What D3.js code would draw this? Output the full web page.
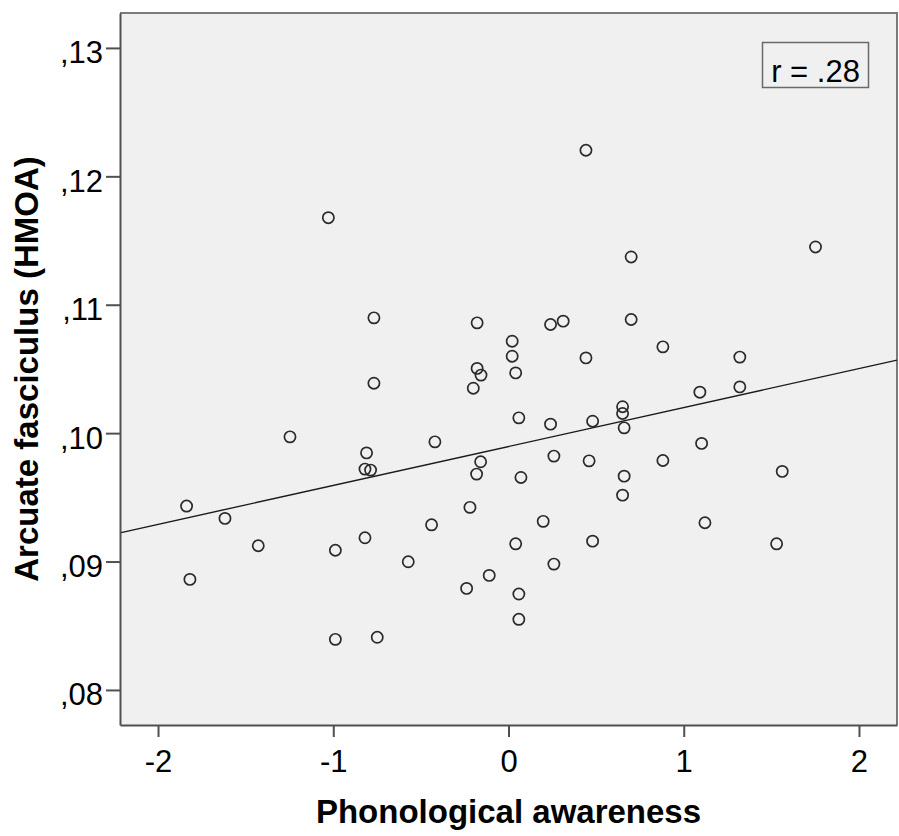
<!DOCTYPE html>
<html>
<head>
<meta charset="utf-8">
<script src="https://cdn.jsdelivr.net/npm/d3@7/dist/d3.min.js"></script>
<style>
  html, body { margin: 0; padding: 0; background: #ffffff; }
  svg { display: block; }
  text { font-family: "Liberation Sans", Arial, sans-serif; fill: #000; }
</style>
</head>
<body>
<svg id="chart" width="899" height="836"></svg>
<script>
// ---- Data ----
const phonologicalAwareness = [
  -1.837, -1.818, -1.618, -1.428, -1.247, -1.028, -0.988, -0.988, -0.819, -0.810,
  -0.819, -0.787, -0.768, -0.768, -0.749, -0.572, -0.439, -0.420, -0.239, -0.220,
  -0.201, -0.179, -0.179, -0.157, -0.182, -0.159, -0.110, 0.021, 0.021, 0.041,
  0.059, 0.071, 0.041, 0.059, 0.059, 0.198, 0.240, 0.312, 0.240, 0.259,
  0.259, 0.442, 0.442, 0.460, 0.480, 0.480, 0.700, 0.700, 0.881, 0.651,
  0.651, 0.660, 0.881, 0.660, 0.651, 1.092, 1.320, 1.320, 1.102, 1.121,
  1.562, 1.530, 1.752
];
const arcuateHMOA = [
  0.09432, 0.08861, 0.09336, 0.09123, 0.09971, 0.11678, 0.09088, 0.08394, 0.09185, 0.09846,
  0.09720, 0.09712, 0.10898, 0.10389, 0.08410, 0.08998, 0.09286, 0.09932, 0.08791, 0.09422,
  0.10350, 0.10859, 0.10504, 0.10452, 0.09681, 0.09777, 0.08892, 0.10716, 0.10599, 0.10469,
  0.10119, 0.09655, 0.09138, 0.08747, 0.08550, 0.09313, 0.10846, 0.10872, 0.10070, 0.09821,
  0.08980, 0.12203, 0.10586, 0.09784, 0.10093, 0.09159, 0.11372, 0.10885, 0.10672, 0.10206,
  0.10153, 0.10041, 0.09787, 0.09665, 0.09517, 0.10319, 0.10592, 0.10360, 0.09920, 0.09302,
  0.09702, 0.09138, 0.11450
];
const xTickValues = [-2, -1, 0, 1, 2];
const xTickLabels = ["-2", "-1", "0", "1", "2"];
const yTickValues = [0.08, 0.09, 0.10, 0.11, 0.12, 0.13];
const yTickLabels = [",08", ",09", ",10", ",11", ",12", ",13"];
const xDomain = [-2.217, 2.217];
const yDomain = [0.07727, 0.13272];
const fitIntercept = 0.09896;
const fitSlope = 0.003033;
const rLabel = "r = .28";
const xTitle = "Phonological awareness";
const yTitle = "Arcuate fasciculus (HMOA)";

// ---- Layout ----
const plot = { left: 120, right: 897, top: 13, bottom: 725 };
const svg = d3.select("#chart");

const x = d3.scaleLinear().domain(xDomain).range([plot.left, plot.right]);
const y = d3.scaleLinear().domain(yDomain).range([plot.bottom, plot.top]);

// plot background
svg.append("rect")
  .attr("x", plot.left).attr("y", plot.top)
  .attr("width", plot.right - plot.left).attr("height", plot.bottom - plot.top)
  .attr("fill", "#f0f0f0");

// top and right frame lines
svg.append("path")
  .attr("d", `M${plot.left},${plot.top}H${plot.right}V${plot.bottom}`)
  .attr("fill", "none").attr("stroke", "#7a7a7a").attr("stroke-width", 2);

// fit line
const fitData = xDomain.map(v => ({ x: v, y: fitIntercept + fitSlope * v }));
svg.append("path")
  .datum(fitData)
  .attr("d", d3.line().x(d => x(d.x)).y(d => y(d.y)))
  .attr("fill", "none").attr("stroke", "#1a1a1a").attr("stroke-width", 1.4);

// points
const pts = phonologicalAwareness.map((v, i) => ({ x: v, y: arcuateHMOA[i] }));
svg.append("g").selectAll("circle")
  .data(pts).join("circle")
  .attr("cx", d => x(d.x)).attr("cy", d => y(d.y))
  .attr("r", 5.6)
  .attr("fill", "none").attr("stroke", "#2a2a2a").attr("stroke-width", 1.7);

// axes
const xAxis = d3.axisBottom(x).tickValues(xTickValues)
  .tickFormat((d, i) => xTickLabels[i]).tickSize(12).tickSizeOuter(0);
const gx = svg.append("g").attr("transform", `translate(0,${plot.bottom})`).call(xAxis);
gx.select(".domain").attr("stroke", "#505050").attr("stroke-width", 2);
gx.selectAll(".tick line").attr("stroke", "#505050").attr("stroke-width", 2);
gx.selectAll(".tick text").attr("y", 47).attr("dy", null)
  .style("font-size", "31px").style("font-family", '"Liberation Sans", Arial, sans-serif')
  .attr("fill", "#000");

const yAxis = d3.axisLeft(y).tickValues(yTickValues)
  .tickFormat((d, i) => yTickLabels[i]).tickSize(14).tickSizeOuter(0);
const gy = svg.append("g").attr("transform", `translate(${plot.left},0)`).call(yAxis);
gy.select(".domain").attr("stroke", "#505050").attr("stroke-width", 2);
gy.selectAll(".tick line").attr("stroke", "#505050").attr("stroke-width", 2);
gy.selectAll(".tick text").attr("x", -17).attr("dy", null).attr("y", 15)
  .style("font-size", "31px").style("font-family", '"Liberation Sans", Arial, sans-serif')
  .attr("fill", "#000");

// r annotation box
svg.append("rect")
  .attr("x", 762.5).attr("y", 42.5).attr("width", 106).attr("height", 45)
  .attr("fill", "#f0f0f0").attr("stroke", "#6a6a6a").attr("stroke-width", 1.5);
svg.append("text")
  .attr("x", 815.5).attr("y", 81.5).attr("text-anchor", "middle")
  .style("font-size", "31px").text(rLabel);

// axis titles
svg.append("text")
  .attr("x", (plot.left + plot.right) / 2).attr("y", 823)
  .attr("text-anchor", "middle")
  .style("font-size", "33px").style("font-weight", "bold")
  .text(xTitle);
svg.append("text")
  .attr("transform", `translate(38,${(plot.top + plot.bottom) / 2}) rotate(-90)`)
  .attr("text-anchor", "middle")
  .style("font-size", "33px").style("font-weight", "bold")
  .text(yTitle);
</script>
</body>
</html>
